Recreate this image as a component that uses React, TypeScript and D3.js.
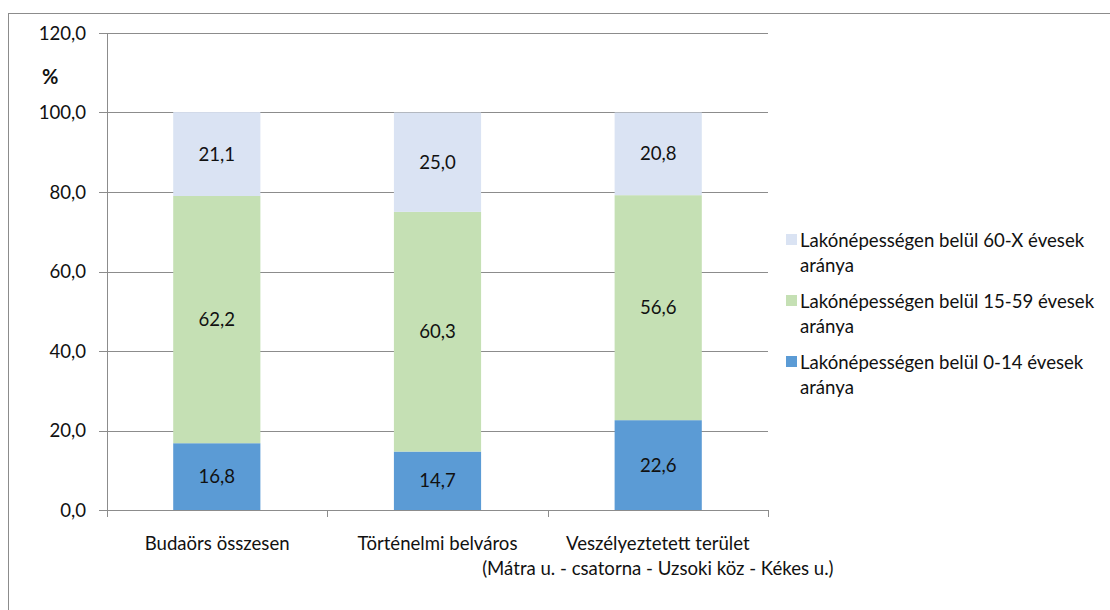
import React from "react";
import * as d3 from "d3";

const categories = ["Budaörs összesen", "Történelmi belváros", "Veszélyeztetett terület"];
const categorySub = ["", "", "(Mátra u. - csatorna - Uzsoki köz - Kékes u.)"];
const seriesNames = [
  "Lakónépességen belül 0-14 évesek",
  "Lakónépességen belül 15-59 évesek",
  "Lakónépességen belül 60-X évesek",
];
const age0to14 = [16.8, 14.7, 22.6];
const age15to59 = [62.2, 60.3, 56.6];
const age60plus = [21.1, 25.0, 20.8];
const yTicks = [0, 20, 40, 60, 80, 100, 120];
const colors = ["#5b9bd5", "#c5e0b4", "#dae3f3"];

const FONT = "Lato, sans-serif";
const FS = 18.6;

export default function App() {
  const left = 107, right = 768, top = 33, bottom = 510;
  const x = d3.scaleBand().domain(categories).range([left, right]).paddingInner(0.605).paddingOuter(0.3);
  const band = d3.scaleBand().domain(categories).range([left, right]);
  const y = d3.scaleLinear().domain([0, 120]).range([bottom, top]);
  const series = [age0to14, age15to59, age60plus];
  const data = categories.map((c, i) => ({ c, v0: age0to14[i], v1: age15to59[i], v2: age60plus[i] }));
  const stack = d3.stack<any>().keys(["v0", "v1", "v2"])(data);
  const fmt = (v: number) => v.toFixed(1).replace(".", ",");

  return (
    <svg width={1110} height={610} style={{ position: "absolute", left: 0, top: 0, fontFamily: FONT }}>
      <rect x={0} y={0} width={1110} height={610} fill="#fff" />
      <rect x={8.5} y={13.5} width={1110} height={620} fill="none" stroke="#8c8c8c" strokeWidth={1} />
      {yTicks.map((t) => (
        <g key={t}>
          <line x1={left - 8} x2={right} y1={Math.round(y(t)) + 0.5} y2={Math.round(y(t)) + 0.5} stroke="#8c8c8c" />
          <text x={86} y={y(t)} dy="0.35em" textAnchor="end" fontSize={FS} fill="#111">{fmt(t)}</text>
        </g>
      ))}
      <line x1={left + 0.5} x2={left + 0.5} y1={top} y2={bottom + 7} stroke="#8c8c8c" />
      {categories.map((c, i) => (
        <line key={c} x1={Math.round((band(c) as number) + band.bandwidth()) + 0.5} x2={Math.round((band(c) as number) + band.bandwidth()) + 0.5} y1={bottom} y2={bottom + 7} stroke="#8c8c8c" />
      ))}
      <text x={42} y={77} dy="0.35em" fontSize={20} fontWeight="bold" fill="#111">%</text>
      {stack.map((s, si) => (
        <g key={si}>
          {s.map((d, i) => (
            <g key={i}>
              <rect x={x(categories[i])} y={y(d[1])} width={x.bandwidth()} height={y(d[0]) - y(d[1])} fill={colors[si]} />
              <text x={(x(categories[i]) as number) + x.bandwidth() / 2} y={(y(d[0]) + y(d[1])) / 2} dy="0.35em" textAnchor="middle" fontSize={FS} fill="#111">
                {fmt(series[si][i])}
              </text>
            </g>
          ))}
        </g>
      ))}
      {categories.map((c, i) => (
        <g key={c}>
          <text x={(band(c) as number) + band.bandwidth() / 2} y={543} dy="0.35em" textAnchor="middle" fontSize={FS} fill="#111">{c}</text>
          {categorySub[i] && (
            <text x={(band(c) as number) + band.bandwidth() / 2} y={568} dy="0.35em" textAnchor="middle" fontSize={FS} fill="#111">{categorySub[i]}</text>
          )}
        </g>
      ))}
      {[2, 1, 0].map((si, k) => (
        <g key={si} transform={`translate(786, ${240 + k * 61})`}>
          <rect x={0} y={-6} width={11} height={11} fill={colors[si]} />
          <text x={14} y={0} dy="0.35em" fontSize={FS} fill="#111">{seriesNames[si]}</text>
          <text x={14} y={25} dy="0.35em" fontSize={FS} fill="#111">aránya</text>
        </g>
      ))}
    </svg>
  );
}
